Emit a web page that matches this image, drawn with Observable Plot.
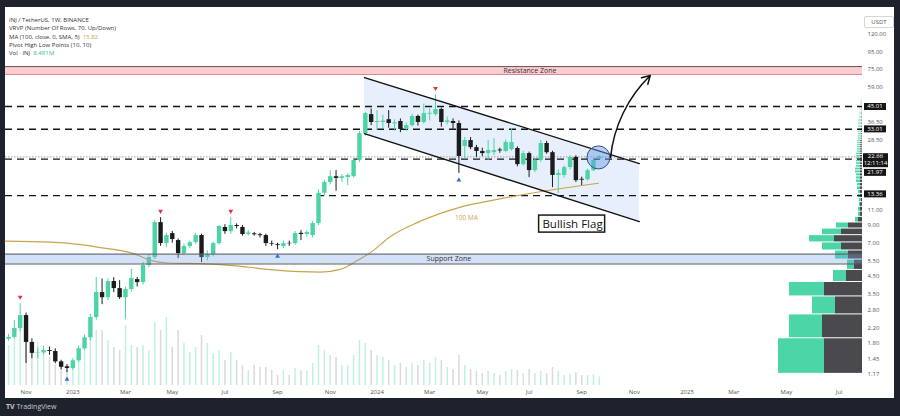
<!DOCTYPE html>
<html>
<head>
<meta charset="utf-8">
<script src="https://cdn.jsdelivr.net/npm/d3@7"></script>
<script src="https://cdn.jsdelivr.net/npm/@observablehq/plot@0.6"></script>
<style>
  html, body { margin:0; padding:0; background:#1e222d; }
  #wrap { position:relative; width:900px; height:416px; background:#1e222d; overflow:hidden; font-family:"Open Sans","DejaVu Sans",sans-serif; }
  #panel { position:absolute; left:5px; top:7px; width:889px; height:391px; background:#ffffff; }
  .layer { position:absolute; left:0; top:0; width:900px; height:398px; }
  #legend { position:absolute; left:9px; top:16px; font-size:6px; line-height:8.3px; color:#333; white-space:nowrap; }
  #unit { position:absolute; left:864px; top:16px; width:28px; height:10px; border:1px solid #d6d6d6; border-radius:2px; font-size:6px; line-height:10px; text-align:center; color:#555; background:#fff; }
  #brand { position:absolute; left:6px; top:403px; font-size:7px; line-height:8px; color:#c8c8c8; }
</style>
</head>
<body>
<div id="wrap">
  <div id="panel"></div>
  <div id="vol" class="layer"></div>
  <div id="vp" class="layer"></div>
  <div id="main" class="layer"></div>
  <div id="legend"></div>
  <div id="unit">USDT</div>
  <div id="brand"><b>TV</b> TradingView</div>
</div>
<script>
// ---------------- data ----------------
const firstWeekStart = "2022-10-17";
const opens = [1.89,1.94,2.19,2.61,1.81,1.56,1.57,1.62,1.60,1.39,
  1.30,1.27,1.41,1.66,1.93,2.54,3.57,3.33,4.15,3.77,
  3.33,3.72,4.26,4.09,5.16,5.75,9.26,6.96,7.97,7.25,
  6.07,6.68,7.05,7.76,5.75,5.99,6.96,8.66,8.19,8.90,
  8.66,7.90,7.95,7.85,7.76,6.96,6.85,6.68,6.98,6.96,
  8.00,7.87,7.76,9.14,13.8,16.0,17.3,16.9,17.1,17.3,
  21.6,31.1,40.3,36.2,36.2,37.6,35.5,36.7,32.9,34.7,
  39.3,36.2,40.5,40.3,43.2,36.2,36.7,35.7,26.1,28.3,
  25.7,24.4,23.7,24.0,24.9,24.4,25.0,25.4,20.4,23.7,
  18.8,21.6,27.2,24.0,17.6,17.6,19.6,22.5,16.7,16.6,
  18.8,22.0];
const highs = [2.02,2.44,3.07,2.70,1.90,1.68,1.72,1.70,1.66,1.42,
  1.34,1.45,1.72,2.00,2.65,4.38,4.30,4.30,4.38,4.20,
  3.85,4.90,4.38,5.40,6.00,9.50,9.90,8.00,8.20,7.40,
  6.90,7.20,8.00,7.90,6.30,7.10,8.90,9.00,9.90,9.10,
  8.90,8.30,8.10,8.00,7.90,7.20,7.00,7.20,7.20,8.20,
  8.30,8.30,9.40,14.5,16.5,18.8,18.8,17.8,18.0,22.0,
  32.0,41.5,43.5,42.6,40.0,42.6,37.5,38.0,36.0,40.5,
  40.0,46.5,43.5,52.7,44.0,39.0,38.0,37.0,29.5,29.5,
  26.5,25.5,28.3,29.0,25.5,28.5,33.3,26.0,24.5,24.2,
  22.2,28.3,28.0,24.5,19.0,20.0,23.0,23.0,17.2,19.2,
  22.0,23.0];
const lows = [1.84,1.90,2.10,1.36,1.45,1.45,1.52,1.52,1.36,1.25,
  1.20,1.24,1.38,1.62,1.85,2.45,3.03,3.20,3.57,3.25,
  2.47,3.60,3.85,3.95,5.00,5.60,6.70,6.60,7.00,5.67,
  5.95,6.50,6.90,5.37,5.50,5.80,6.80,7.90,7.90,8.50,
  7.70,7.70,7.70,7.50,6.70,6.70,6.40,6.50,6.70,6.80,
  7.25,7.60,7.50,8.90,13.3,15.5,14.2,16.0,15.3,17.0,
  21.0,30.0,34.7,32.5,33.0,33.5,32.0,31.5,32.0,34.0,
  34.5,35.5,37.0,39.5,34.0,35.0,33.0,18.1,22.0,25.0,
  22.5,22.8,21.6,23.0,23.8,24.0,24.5,19.8,20.0,17.1,
  18.3,21.0,23.5,14.9,13.8,17.0,19.0,16.0,15.3,16.3,
  18.5,21.8];
const closes = [1.94,2.19,2.61,1.81,1.56,1.57,1.62,1.60,1.39,1.29,
  1.27,1.41,1.66,1.93,2.54,3.57,3.33,4.15,3.77,3.33,
  3.72,4.32,4.09,5.16,5.75,9.26,6.96,7.76,7.35,6.07,
  6.68,7.05,7.76,5.75,5.99,6.96,8.78,8.19,8.90,8.78,
  7.87,8.05,7.85,7.75,6.96,6.90,6.77,6.96,6.94,7.97,
  7.87,8.08,9.14,13.8,16.0,17.3,16.9,17.3,17.6,21.6,
  31.1,40.9,36.2,36.7,36.9,35.7,36.0,32.9,34.7,39.3,
  36.2,40.9,41.0,43.2,36.2,37.0,35.7,22.8,28.3,25.7,
  24.4,23.7,24.7,24.7,24.6,27.6,27.6,20.4,23.7,18.8,
  21.6,27.2,24.0,17.6,18.1,19.6,22.5,16.4,16.5,18.8,
  21.6,22.66];
const volumes = [40,55,60,55,43,43,35,28,23,18,
  15,18,25,38,50,55,55,45,38,35,
  60,40,38,40,35,63,55,68,38,55,
  42,33,38,50,42,32,35,25,33,25,
  20,15,20,18,18,15,10,15,10,17,
  15,14,22,40,35,30,28,20,20,30,
  45,42,35,30,28,25,20,22,18,22,
  20,25,22,28,25,18,16,30,20,16,
  14,12,14,12,10,14,16,15,12,16,
  12,14,12,18,14,10,11,13,10,10,
  11,8.481];

const yTickValues = [120, 95, 75, 59, 36.5, 28.5, 11, 9, 7, 5.5, 4.5, 3.5, 2.8, 2.2, 1.8, 1.45, 1.17];
const xTickDates = ["2022-11-07","2023-01-02","2023-03-06","2023-05-01","2023-07-03","2023-09-04","2023-11-06",
  "2024-01-01","2024-03-04","2024-05-06","2024-07-01","2024-09-02","2024-11-04","2025-01-06","2025-03-03","2025-05-05","2025-07-07"];
const xTickLabels = ["Nov","2023","Mar","May","Jul","Sep","Nov","2024","Mar","May","Jul","Sep","Nov","2025","Mar","May","Jul"];

const maDates = ["2022-10-13","2022-12-06","2022-12-26","2023-02-04","2023-03-16","2023-04-05","2023-04-26","2023-06-03",
  "2023-07-13","2023-08-23","2023-10-01","2023-10-25","2023-11-18","2023-12-08","2023-12-27","2024-01-17","2024-02-18",
  "2024-03-17","2024-04-09","2024-05-24","2024-07-14","2024-09-22"];
const maValues = [7.2,7.1,7.0,6.59,6.07,5.53,5.34,5.30,5.16,4.90,4.75,4.72,4.90,5.50,6.30,7.66,9.26,10.5,11.4,12.7,14.1,15.82];
const maLast = "15.82";
const volLast = "8.481M";

const levelPrices = [45.01, 33.01, 21.97, 13.36];
const lastPrice = 22.66;
const countdown = "12:11:14";
const resistanceZone = [69.6, 77.5];
const supportZone = [5.27, 6.03];

const channelDates = ["2023-12-17", "2024-11-10"];
const channelUpper = [66.8, 20.7];
const channelLower = [31.1, 9.39];

const pivotHighDates = ["2022-10-31", "2023-04-17", "2023-07-10", "2024-03-11"];
const pivotLowDates = ["2022-12-26", "2023-09-04", "2024-04-08"];

const breakoutCircle = {date: "2024-09-22", price: 22.5};
const projection = {from: "2024-10-06T12:00:00Z", fromPrice: 22.5, to: "2024-11-23", toPrice: 68.6};
const flagBox = {from: "2024-07-13", to: "2024-09-30", low: 8.08, high: 10.19, mid: "2024-08-22", midPrice: 9.07};

const vpLow = 1.18, vpHigh = 52.7;
const vpUp = [46,33,23,35,13,7,13,19,25,19, 12,3,2,2,1,2,2,2,3,3, 4,4,4,5,5,4,4,4,4,4,
  4,3,3,3,3,3,3,3,3,3, 3,3,3,3,3,3,3,3,3,3, 2,2,2,2,2,2,2,2,2,2, 1,1,1,1,1,1,1,1,1,1];
const vpDown = [38,40,27,38,16,8,14,21,28,21, 14,4,2,2,2,1,2,2,2,2, 2,2,2,2,2,2,2,2,2,2,
  2,2,2,2,2,2,2,1,1,1, 1,1,1,1,1,1,1,1,1,1, 1,1,1,1,1,1,1,1,1,1, 1,1,1,1,1,1,0,0,0,0];

// ---------------- build ----------------
document.getElementById("legend").innerHTML =
  `<div>INJ / TetherUS, 1W, BINANCE</div>
   <div>VRVP (Number Of Rows, 70, Up/Down)</div>
   <div>MA (100, close, 0, SMA, 5)&nbsp; <span style="color:#c9a44c">${maLast}</span></div>
   <div>Pivot High Low Points (10, 10)</div>
   <div>Vol · INJ&nbsp; <span style="color:#36c08f">${volLast}</span></div>`;

const UP = "#4cd4a4", DOWN = "#1b1b1b";
const start = new Date(firstWeekStart);
const weeks = d3.utcMonday.range(start, d3.utcDay.offset(start, 7 * opens.length));
const candles = weeks.map((date, i) => ({date, open: opens[i], high: highs[i], low: lows[i], close: closes[i], volume: volumes[i], up: closes[i] >= opens[i]}));
const byTime = new Map(candles.map(c => [+c.date, c]));
const ma = maDates.map((d, i) => ({date: new Date(d), value: maValues[i]}));
const channel = channelDates.map((d, i) => ({date: new Date(d), upper: channelUpper[i], lower: channelLower[i]}));
const pivHigh = pivotHighDates.map(d => byTime.get(+new Date(d)));
const pivLow = pivotLowDates.map(d => byTime.get(+new Date(d)));
const xTicks = xTickDates.map((d, i) => ({date: new Date(d), label: xTickLabels[i]}));
const vpStep = (vpHigh - vpLow) / vpUp.length;
const vpRows = vpUp.map((u, r) => ({lo: vpLow + r * vpStep, hi: vpLow + (r + 1) * vpStep, up: u, down: vpDown[r]}));

const xDomain = [new Date("2022-10-13T10:00:00Z"), new Date("2025-08-04T00:00:00Z")];
const xRange = [5, 862];
const yDomain = [0.9935, 166.4];
const yRange = [386, 10];
const frame = {width: 900, height: 398, marginTop: 10, marginBottom: 12, marginLeft: 5, marginRight: 38};
const svgStyle = {background: "transparent", overflow: "visible", fontFamily: "'Open Sans', 'DejaVu Sans', sans-serif"};

const boxSymbol = (w, h) => ({draw(ctx) { ctx.moveTo(-w/2, -h/2); ctx.lineTo(w/2, -h/2); ctx.lineTo(w/2, h/2); ctx.lineTo(-w/2, h/2); ctx.closePath(); }});
const triDown = {draw(ctx) { ctx.moveTo(-2.4, -2); ctx.lineTo(2.4, -2); ctx.lineTo(0, 2.2); ctx.closePath(); }};
const triUp = {draw(ctx) { ctx.moveTo(-2.4, 2); ctx.lineTo(2.4, 2); ctx.lineTo(0, -2.2); ctx.closePath(); }};

// Volume layer
const volPlot = Plot.plot({
  ...frame, style: svgStyle,
  x: {type: "utc", domain: xDomain, range: xRange, axis: null},
  y: {domain: [0, 70], range: [385, 315], axis: null},
  marks: [
    Plot.ruleX(candles, {x: "date", y1: 0, y2: "volume", stroke: d => d.up ? "rgba(76,212,164,0.34)" : "rgba(120,120,120,0.28)", strokeWidth: 1.5})
  ]
});
document.getElementById("vol").append(volPlot);

// Volume profile layer
const vpPlot = Plot.plot({
  ...frame, style: svgStyle,
  x: {domain: [0, 100], range: [862, 762], axis: null},
  y: {type: "log", domain: yDomain, range: yRange, axis: null},
  marks: [
    Plot.rect(vpRows.filter(d => d.down > 0), {x1: d => 0, x2: "down", y1: "lo", y2: "hi", fill: "#4a4a4e", insetTop: 0.5, insetBottom: 0.5}),
    Plot.rect(vpRows.filter(d => d.up > 0), {x1: "down", x2: d => d.down + d.up, y1: "lo", y2: "hi", fill: "#4cd6a8", insetTop: 0.5, insetBottom: 0.5})
  ]
});
document.getElementById("vp").append(vpPlot);

// Main layer
const labelBox = (value, dy, h) => [
  Plot.dot([value], {y: d => d, frameAnchor: "right", dx: 12.5, dy, r: 5, symbol: boxSymbol(22, h), fill: "#161616"}),
  Plot.text([value], {y: d => d, text: d => d.toFixed(2), frameAnchor: "right", textAnchor: "middle", dx: 12.5, dy, fill: "white", fontSize: 6})
];

const mainPlot = Plot.plot({
  ...frame, style: svgStyle,
  x: {type: "utc", domain: xDomain, range: xRange, axis: null},
  y: {type: "log", domain: yDomain, range: yRange, axis: null},
  marks: [
    Plot.areaY(channel, {x: "date", y1: "lower", y2: "upper", fill: "rgb(110,160,235)", fillOpacity: 0.17, curve: "linear"}),
    Plot.ruleY([lastPrice], {stroke: "#8a8a8a", strokeWidth: 0.8, strokeDasharray: "1.5,1.5"}),
    Plot.ruleY(levelPrices, {stroke: "#151515", strokeWidth: 1.3, strokeDasharray: "7,5"}),
    Plot.ruleX(candles, {x: "date", y1: "low", y2: "high", stroke: d => d.up ? UP : DOWN, strokeWidth: 1}),
    Plot.ruleX(candles, {x: "date", y1: "open", y2: "close", stroke: d => d.up ? UP : DOWN, strokeWidth: 4.4}),
    Plot.line(ma, {x: "date", y: "value", stroke: "#c9a44c", strokeWidth: 1.2, curve: "monotone-x"}),
    Plot.rect([{x1: xDomain[0], x2: xDomain[1], y1: supportZone[0], y2: supportZone[1]}], {x1: "x1", x2: "x2", y1: "y1", y2: "y2", fill: "rgb(120,165,235)", fillOpacity: 0.33}),
    Plot.ruleY(supportZone, {stroke: "#5a5a5a", strokeWidth: 1}),
    Plot.rect([{x1: xDomain[0], x2: xDomain[1], y1: resistanceZone[0], y2: resistanceZone[1]}], {x1: "x1", x2: "x2", y1: "y1", y2: "y2", fill: "rgb(242,70,80)", fillOpacity: 0.27}),
    Plot.ruleY([resistanceZone[1]], {stroke: "#6a5050", strokeWidth: 1}),
    Plot.ruleY([resistanceZone[0]], {stroke: "#d98a8f", strokeWidth: 1}),
    Plot.text([{date: new Date("2024-07-02"), price: Math.sqrt(resistanceZone[0] * resistanceZone[1])}], {x: "date", y: "price", text: () => "Resistance Zone", fontSize: 7, fill: "#333"}),
    Plot.text([{date: new Date("2024-03-27"), price: Math.sqrt(supportZone[0] * supportZone[1])}], {x: "date", y: "price", text: () => "Support Zone", fontSize: 7, fill: "#333"}),
    Plot.line(channel, {x: "date", y: "upper", stroke: "#111", strokeWidth: 1.3}),
    Plot.line(channel, {x: "date", y: "lower", stroke: "#111", strokeWidth: 1.3}),
    Plot.dot(pivHigh, {x: "date", y: "high", dy: -6, r: 3, symbol: triDown, fill: "#e5323e"}),
    Plot.dot(pivLow, {x: "date", y: "low", dy: 6, r: 3, symbol: triUp, fill: "#2f6fe0"}),
    Plot.text([{date: new Date("2024-04-17"), price: 9.9}], {x: "date", y: "price", text: () => "100 MA", fontSize: 6.5, fill: "#c9a44c"}),
    Plot.dot([breakoutCircle], {x: d => new Date(d.date), y: "price", r: 11.5, fill: "rgb(100,150,230)", fillOpacity: 0.45, stroke: "#34507a", strokeWidth: 1}),
    Plot.arrow([projection], {x1: d => new Date(d.from), y1: "fromPrice", x2: d => new Date(d.to), y2: "toPrice", bend: 20, stroke: "#111", strokeWidth: 1.5, headLength: 9}),
    Plot.rect([flagBox], {x1: d => new Date(d.from), x2: d => new Date(d.to), y1: "low", y2: "high", fill: "white", stroke: "#1a1a1a", strokeWidth: 1.5}),
    Plot.text([flagBox], {x: d => new Date(d.mid), y: "midPrice", text: () => "Bullish Flag", fontSize: 11.5, fill: "#111"}),
    // right price axis labels
    Plot.text(yTickValues, {y: d => d, text: d => d.toFixed(2), frameAnchor: "right", textAnchor: "start", dx: 5, fontSize: 6, fill: "#555"}),
    // bottom time axis labels
    Plot.text(xTicks, {x: "date", text: "label", frameAnchor: "bottom", lineAnchor: "middle", dy: 6, fontSize: 6, fill: "#555"}),
    ...labelBox(45.01, 0, 7),
    ...labelBox(33.01, -0.4, 7),
    Plot.dot([lastPrice], {y: d => d, frameAnchor: "right", dx: 13, dy: 3.3, r: 5, symbol: boxSymbol(25, 14), fill: "#161616"}),
    Plot.text([lastPrice], {y: d => d, text: d => d.toFixed(2), frameAnchor: "right", textAnchor: "middle", dx: 13, dy: -0.4, fill: "white", fontSize: 6}),
    Plot.text([lastPrice], {y: d => d, text: () => countdown, frameAnchor: "right", textAnchor: "middle", dx: 13, dy: 6.6, fill: "white", fontSize: 6}),
    ...labelBox(21.97, 13.2, 7),
    ...labelBox(13.36, -1.8, 7)
  ]
});
document.getElementById("main").append(mainPlot);
</script>
</body>
</html>
